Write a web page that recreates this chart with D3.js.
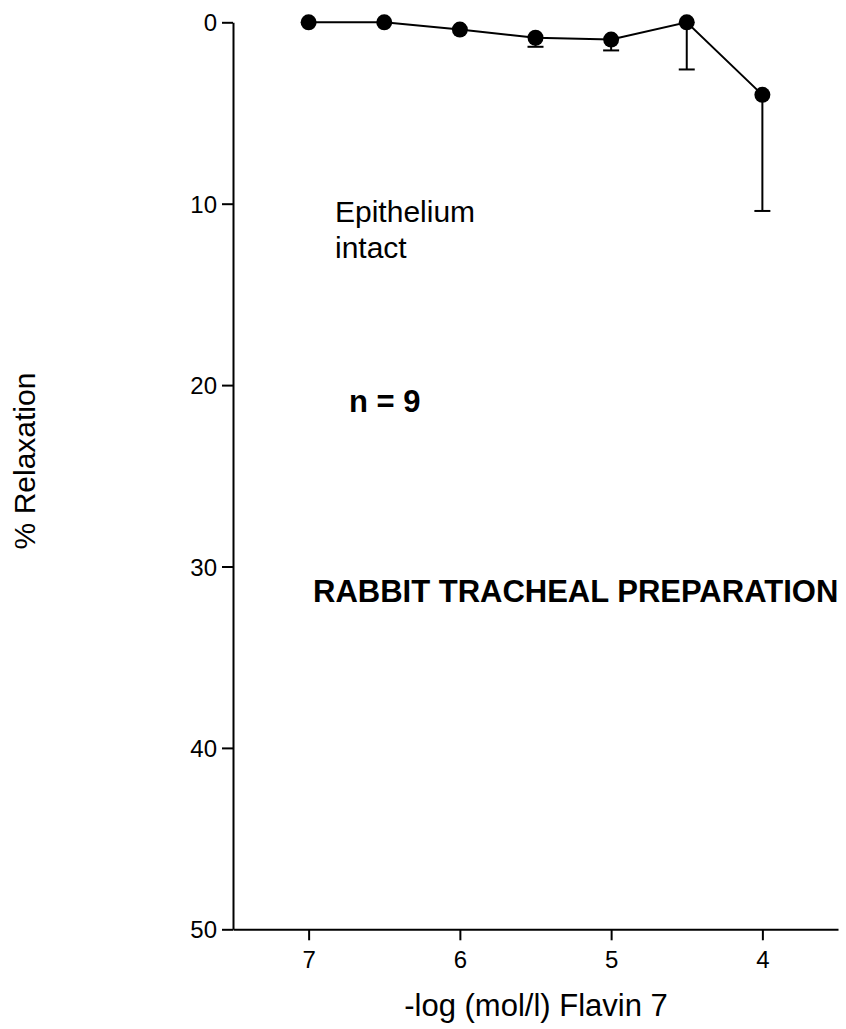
<!DOCTYPE html>
<html>
<head>
<meta charset="utf-8">
<script src="https://cdn.jsdelivr.net/npm/d3@7"></script>
<style>
  html, body { margin: 0; padding: 0; background: #fff; }
  svg { display: block; }
  text { font-family: "Liberation Sans", Arial, sans-serif; fill: #000; }
</style>
</head>
<body>
<svg id="chart" width="846" height="1029"></svg>
<script>
// ---- data ----
const concentrations = [7, 6.5, 6, 5.5, 5, 4.5, 4];      // -log (mol/l)
const relaxation     = [0, 0, 0.4, 0.85, 0.95, 0, 4.0];  // % relaxation (mean)
const sem            = [0, 0, 0, 0.5, 0.6, 2.6, 6.4];    // error (drawn downward)
const xTicks = [7, 6, 5, 4];
const yTicks = [0, 10, 20, 30, 40, 50];

const svg = d3.select("#chart");

const x = d3.scaleLinear().domain([7.5, 3.5]).range([233, 838]);
const y = d3.scaleLinear().domain([0, 50]).range([22.3, 929.3]);

// axes
const xAxis = d3.axisBottom(x).tickValues(xTicks).tickFormat(d3.format("d")).tickSize(11).tickPadding(10).tickSizeOuter(0);
const yAxis = d3.axisLeft(y).tickValues(yTicks).tickFormat(d3.format("d")).tickSize(11).tickPadding(5).tickSizeOuter(0);

const gx = svg.append("g").attr("transform", `translate(0,${y(50)})`).call(xAxis);
const gy = svg.append("g").attr("transform", `translate(${x(7.5)},0)`).call(yAxis);

[gx, gy].forEach(g => {
  g.attr("font-size", 24).attr("font-family", '"Liberation Sans", Arial, sans-serif');
  g.select(".domain").attr("stroke", "#000").attr("stroke-width", 2);
  g.selectAll(".tick line").attr("stroke", "#000").attr("stroke-width", 2);
  g.selectAll(".tick text").attr("fill", "#000");
});
gy.selectAll(".tick text").attr("dy", "0.36em");
gx.selectAll(".tick text").attr("dy", "0.72em");

const data = concentrations.map((c, i) => ({ c, v: relaxation[i], e: sem[i] }));

// error bars (downward)
const eb = svg.append("g");
data.filter(d => d.e > 0).forEach(d => {
  eb.append("line")
    .attr("x1", x(d.c)).attr("x2", x(d.c))
    .attr("y1", y(d.v)).attr("y2", y(d.v + d.e))
    .attr("stroke", "#000").attr("stroke-width", 2);
  eb.append("line")
    .attr("x1", x(d.c) - 8).attr("x2", x(d.c) + 8)
    .attr("y1", y(d.v + d.e)).attr("y2", y(d.v + d.e))
    .attr("stroke", "#000").attr("stroke-width", 2);
});

// line
svg.append("path")
  .datum(data)
  .attr("fill", "none")
  .attr("stroke", "#000")
  .attr("stroke-width", 2)
  .attr("d", d3.line().x(d => x(d.c)).y(d => y(d.v)));

// points
svg.append("g").selectAll("circle").data(data).join("circle")
  .attr("cx", d => x(d.c)).attr("cy", d => y(d.v)).attr("r", 8)
  .attr("fill", "#000");

// annotations
svg.append("text").attr("x", 335).attr("y", 222).attr("font-size", 30).text("Epithelium");
svg.append("text").attr("x", 335).attr("y", 258).attr("font-size", 30).text("intact");
svg.append("text").attr("x", 349).attr("y", 412).attr("font-size", 31).attr("font-weight", "bold").text("n = 9");
svg.append("text").attr("x", 313).attr("y", 602).attr("font-size", 31).attr("font-weight", "bold").text("RABBIT TRACHEAL PREPARATION");

// axis titles
svg.append("text").attr("x", 536).attr("y", 1016).attr("font-size", 31).attr("text-anchor", "middle").text("-log (mol/l) Flavin 7");
svg.append("text").attr("transform", "translate(35,461) rotate(-90)").attr("font-size", 30).attr("text-anchor", "middle").text("% Relaxation");
</script>
</body>
</html>
